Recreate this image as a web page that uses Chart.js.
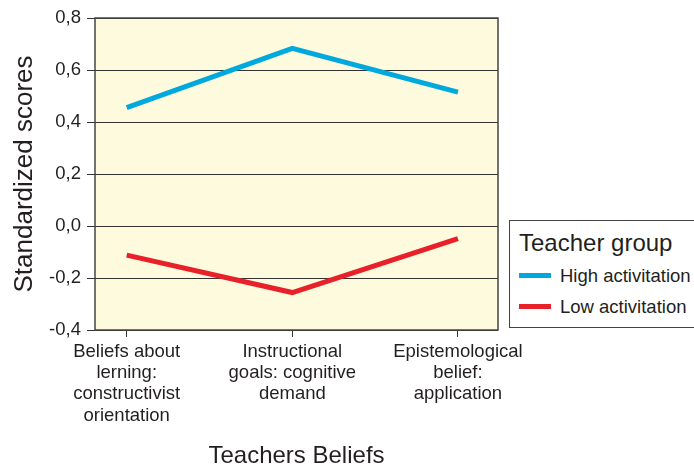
<!DOCTYPE html>
<html>
<head>
<meta charset="utf-8">
<script src="https://cdn.jsdelivr.net/npm/chart.js@4/dist/chart.umd.min.js"></script>
<style>
  html, body { margin: 0; padding: 0; background: #fff; overflow: hidden; }
  #wrap { position: relative; width: 694px; height: 465px; }
  #legend {
    position: absolute; left: 509px; top: 220px; width: 200px; height: 108px;
    border: 1.5px solid #444; box-sizing: border-box; background: #fff;
    font-family: "Liberation Sans", Arial, sans-serif; color: #231f20;
  }
  #legend .ttl { position: absolute; left: 9px; top: 8px; font-size: 24px; }
  #legend .item { position: absolute; left: 9px; font-size: 18.5px; line-height: 20px; white-space: nowrap; }
  #legend .sw { display: inline-block; width: 32px; height: 5px; vertical-align: middle; margin-right: 9px; position: relative; top: -2px; }
</style>
</head>
<body>
<div id="wrap">
  <canvas id="chart" width="694" height="465"></canvas>
  <div id="legend"></div>
</div>
<script>
var categories = [
  ['Beliefs about', 'lerning:', 'constructivist', 'orientation'],
  ['Instructional', 'goals: cognitive', 'demand'],
  ['Epistemological', 'belief:', 'application']
];
var seriesNames = ['High activitation', 'Low activitation'];
var highValues = [0.455, 0.683, 0.515];
var lowValues = [-0.112, -0.256, -0.049];
var yTicks = [-0.4, -0.2, 0.0, 0.2, 0.4, 0.6, 0.8];
var colors = ['#00a9dd', '#e8202a'];

(function () {
  function toPoints(vals) {
    return vals.map(function (v, i) { return { x: i, y: v }; });
  }
  var font = 'Liberation Sans';
  var ink = '#231f20';

  var frame = {
    id: 'frame',
    beforeDatasetsDraw: function (chart) {
      var a = chart.chartArea, ctx = chart.ctx;
      ctx.save();
      ctx.fillStyle = '#fefade';
      ctx.fillRect(a.left, a.top, a.right - a.left, a.bottom - a.top);
      ctx.strokeStyle = '#333';
      ctx.lineWidth = 1;
      chart.scales.y.ticks.forEach(function (t) {
        var y = Math.round(chart.scales.y.getPixelForValue(t.value)) + 0.5;
        ctx.beginPath(); ctx.moveTo(a.left, y); ctx.lineTo(a.right, y); ctx.stroke();
      });
      ctx.lineWidth = 1.5;
      ctx.strokeStyle = '#444';
      ctx.strokeRect(a.left, a.top, a.right - a.left, a.bottom - a.top);
      ctx.restore();
    }
  };

  new Chart(document.getElementById('chart'), {
    type: 'line',
    data: {
      datasets: [
        { label: seriesNames[0], data: toPoints(highValues), borderColor: colors[0], borderWidth: 5, pointRadius: 0, tension: 0, borderCapStyle: 'butt' },
        { label: seriesNames[1], data: toPoints(lowValues), borderColor: colors[1], borderWidth: 5, pointRadius: 0, tension: 0, borderCapStyle: 'butt' }
      ]
    },
    options: {
      responsive: false,
      animation: false,
      layout: { padding: { top: 18, right: 196, left: 0, bottom: 0 } },
      plugins: { legend: { display: false }, tooltip: { enabled: false } },
      scales: {
        x: {
          type: 'linear',
          min: -0.1915, max: 2.242,
          afterBuildTicks: function (s) { s.ticks = categories.map(function (c, i) { return { value: i }; }); },
          afterFit: function (s) { s.height = 135; },
          grid: { drawOnChartArea: false, drawTicks: true, tickLength: 7, color: '#333', lineWidth: 1 },
          border: { display: false },
          ticks: {
            autoSkip: false, maxRotation: 0, padding: 4, color: ink,
            font: { family: font, size: 18.5, lineHeight: 1.15 },
            callback: function (v) { return categories[v]; }
          },
          title: { display: true, text: 'Teachers Beliefs', color: ink, font: { family: font, size: 24, lineHeight: 1 }, padding: { top: 0, bottom: -3 } }
        },
        y: {
          min: -0.4, max: 0.8,
          afterBuildTicks: function (s) { s.ticks = yTicks.map(function (v) { return { value: v }; }); },
          afterFit: function (s) { s.width = 95; },
          grid: { drawOnChartArea: false, drawTicks: true, tickLength: 8, color: '#333', lineWidth: 1 },
          border: { display: false },
          ticks: {
            padding: 6, color: ink,
            font: { family: font, size: 18.5 },
            callback: function (v) { return v.toFixed(1).replace('.', ','); }
          },
          title: { display: true, text: 'Standardized scores', color: ink, font: { family: font, size: 26 }, padding: { top: 9, bottom: 0 } }
        }
      }
    },
    plugins: [frame]
  });

  var lg = document.getElementById('legend');
  var html = '<div class="ttl">Teacher group</div>';
  seriesNames.forEach(function (n, i) {
    html += '<div class="item" style="top:' + (45 + i * 31) + 'px"><span class="sw" style="background:' + colors[i] + '"></span>' + n + '</div>';
  });
  lg.innerHTML = html;
})();
</script>
</body>
</html>
